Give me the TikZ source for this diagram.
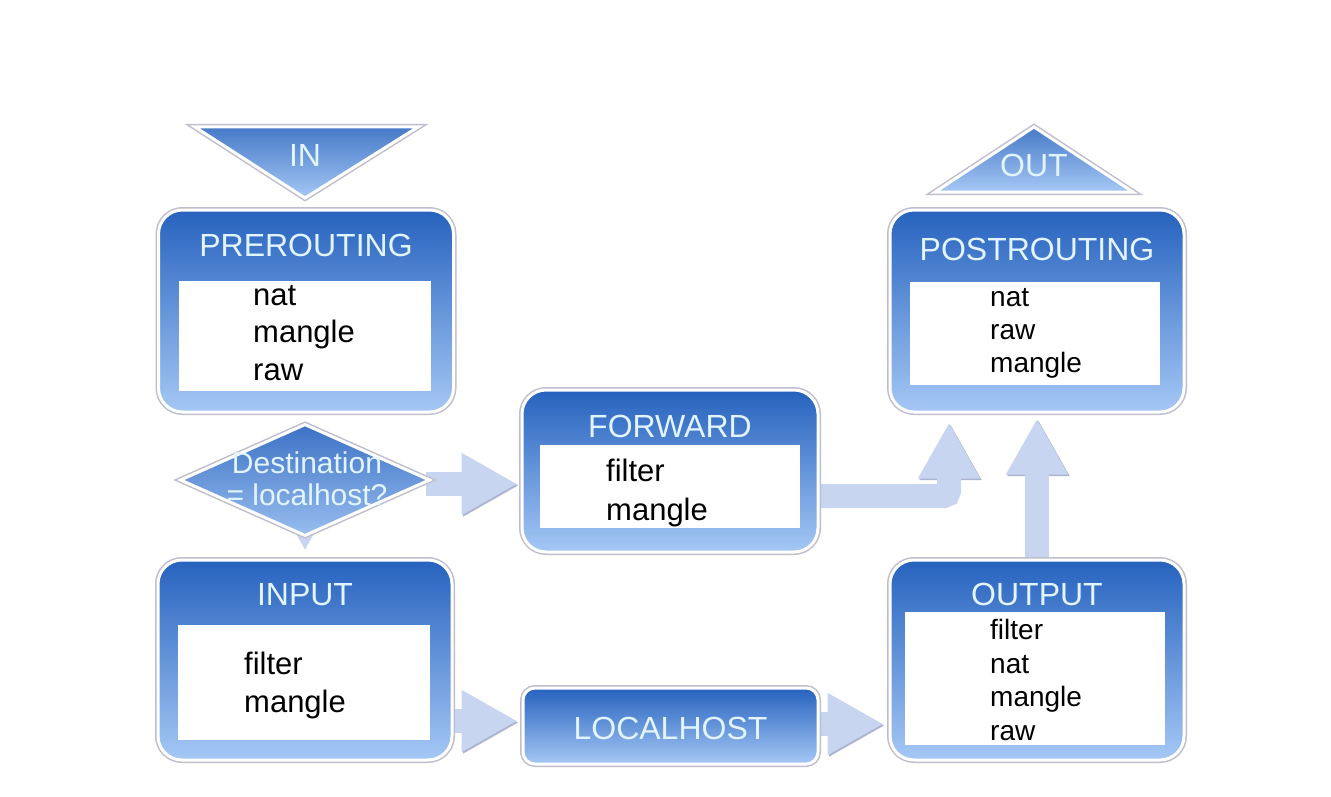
\documentclass[tikz,border=0pt]{standalone}
\usepackage{fontspec}
\setmainfont{Liberation Sans}
\usetikzlibrary{shapes.geometric,arrows.meta,calc}
\pgfdeclarelayer{background}
\pgfdeclarelayer{canvas}
\pgfsetlayers{canvas,background,main}
\definecolor{boxtop}{RGB}{38,98,190}
\definecolor{boxbot}{RGB}{165,200,245}
\definecolor{titlec}{RGB}{226,244,255}
\definecolor{arrowc}{RGB}{200,213,240}
\definecolor{arrowedge}{RGB}{172,180,208}
\definecolor{rimc}{RGB}{190,190,205}
\tikzset{
 chainbox/.style={rectangle, rounded corners=24pt, top color=boxtop, bottom color=boxbot, draw=white, line width=3pt, preaction={draw=rimc, line width=6pt}, inner sep=0pt},
 hostbox/.style={chainbox, rounded corners=12pt},
 tablebox/.style={rectangle, fill=white, draw=none, inner sep=0pt},
 title/.style={text=titlec, font=\fontsize{32}{38}\selectfont, inner sep=0pt, anchor=base},
 tables/.style={font=\fontsize{31}{37.5}\selectfont, align=left, inner sep=0pt, anchor=north west, text=black},
 tablesS/.style={tables, font=\fontsize{28}{33}\selectfont},
 flow/.style={draw=arrowc, line width=24pt, -{Triangle[length=56pt, width=58pt]},
   preaction={draw=arrowedge, transform canvas={shift={(1.5,1.5)}}}},
 terminal/.style={top color=boxtop!85!white, bottom color=boxbot, draw=white, line width=3pt, preaction={draw=rimc, line width=6pt}},
}
\begin{document}
\begin{tikzpicture}[x=1pt, y=-1pt]
\useasboundingbox (0,0) rectangle (1331,797);
\begin{pgfonlayer}{canvas}
\fill[white] (0,0) rectangle (1331,797);
\end{pgfonlayer}

% IN / OUT terminals
\path[terminal] (195,127) -- (418,127) -- (305,198) -- cycle;
\node[title] (inL) at (305,167) {IN};
\path[terminal] (935,192) -- (1133,192) -- (1034,127) -- cycle;
\node[title] (outL) at (1034,177) {OUT};

% PREROUTING
\node[chainbox, minimum width=295, minimum height=202] (pre) at (306,311) {};
\node[tablebox, minimum width=252, minimum height=110] (preT) at (304.5,336) {};
\node[title] (preL) at (306,256) {PREROUTING};
\node[tables] (preX) at (253,285) {nat\\mangle\\raw};

% decision
\node[diamond, minimum width=250, minimum height=112, inner sep=0pt, top color=boxtop!90!white, bottom color=boxbot!90!boxtop, draw=white, line width=3pt, preaction={draw=rimc, line width=6pt}] (dia) at (305,480) {};
\node[text=titlec, font=\fontsize{30}{32}\selectfont, align=center, inner sep=0pt] (diaL) at (307,479) {Destination\\= localhost?};

% FORWARD
\node[chainbox, minimum width=296, minimum height=162] (fwd) at (670,471) {};
\node[tablebox, minimum width=260, minimum height=83] (fwdT) at (670,486.5) {};
\node[title] (fwdL) at (670,437) {FORWARD};
\node[tables, font=\fontsize{31}{39}\selectfont] (fwdX) at (606,459) {filter\\mangle};

% POSTROUTING
\node[chainbox, minimum width=294, minimum height=202] (post) at (1037,311) {};
\node[tablebox, minimum width=250, minimum height=103] (postT) at (1035,333.5) {};
\node[title] (postL) at (1037,260) {POSTROUTING};
\node[tablesS] (postX) at (990,288) {nat\\raw\\mangle};

% INPUT
\node[chainbox, minimum width=294, minimum height=200] (in) at (305,660) {};
\node[tablebox, minimum width=252, minimum height=115] (inT) at (304,682.5) {};
\node[title] (inTitle) at (305,605) {INPUT};
\node[tables, font=\fontsize{31}{38}\selectfont] (inX) at (244,652) {filter\\mangle};

% LOCALHOST
\node[hostbox, minimum width=295, minimum height=76] (loc) at (670.5,726) {};
\node[title] (locL) at (670.5,739) {LOCALHOST};

% OUTPUT
\node[chainbox, minimum width=294, minimum height=200] (out) at (1037,660) {};
\node[tablebox, minimum width=260, minimum height=133] (outT) at (1035,678.5) {};
\node[title] (outTitle) at (1037,605) {OUTPUT};
\node[tablesS, font=\fontsize{28}{33.6}\selectfont] (outX) at (990,619) {filter\\nat\\mangle\\raw};

% connectors
\begin{pgfonlayer}{background}
\draw[flow] ($(dia.east)+(-6,4)$) -- ($(fwd.west)+(-3,13)$);
\draw[flow, rounded corners=5pt] ($(fwd.east)+(-6,25)$) -| ($(post.south)+(-88,9)$);
\draw[flow] ($(out.north)+(0,6)$) -- ($(post.south)+(0,5)$);
\draw[flow] ($(in.east |- loc.west)+(-12,-5)$) -- ($(loc.west)+(-4,-5)$);
\draw[flow] ($(loc.east)+(-6,-2)$) -- ($(out.west |- loc.east)+(-5,-2)$);
\fill[arrowc, draw=white, line width=1.5pt] ($(dia.south)+(-10,-4)$) -- ($(dia.south)+(10,-4)$) -- ($(in.north)+(0,-7)$) -- cycle;
\end{pgfonlayer}
\end{tikzpicture}
\end{document}
